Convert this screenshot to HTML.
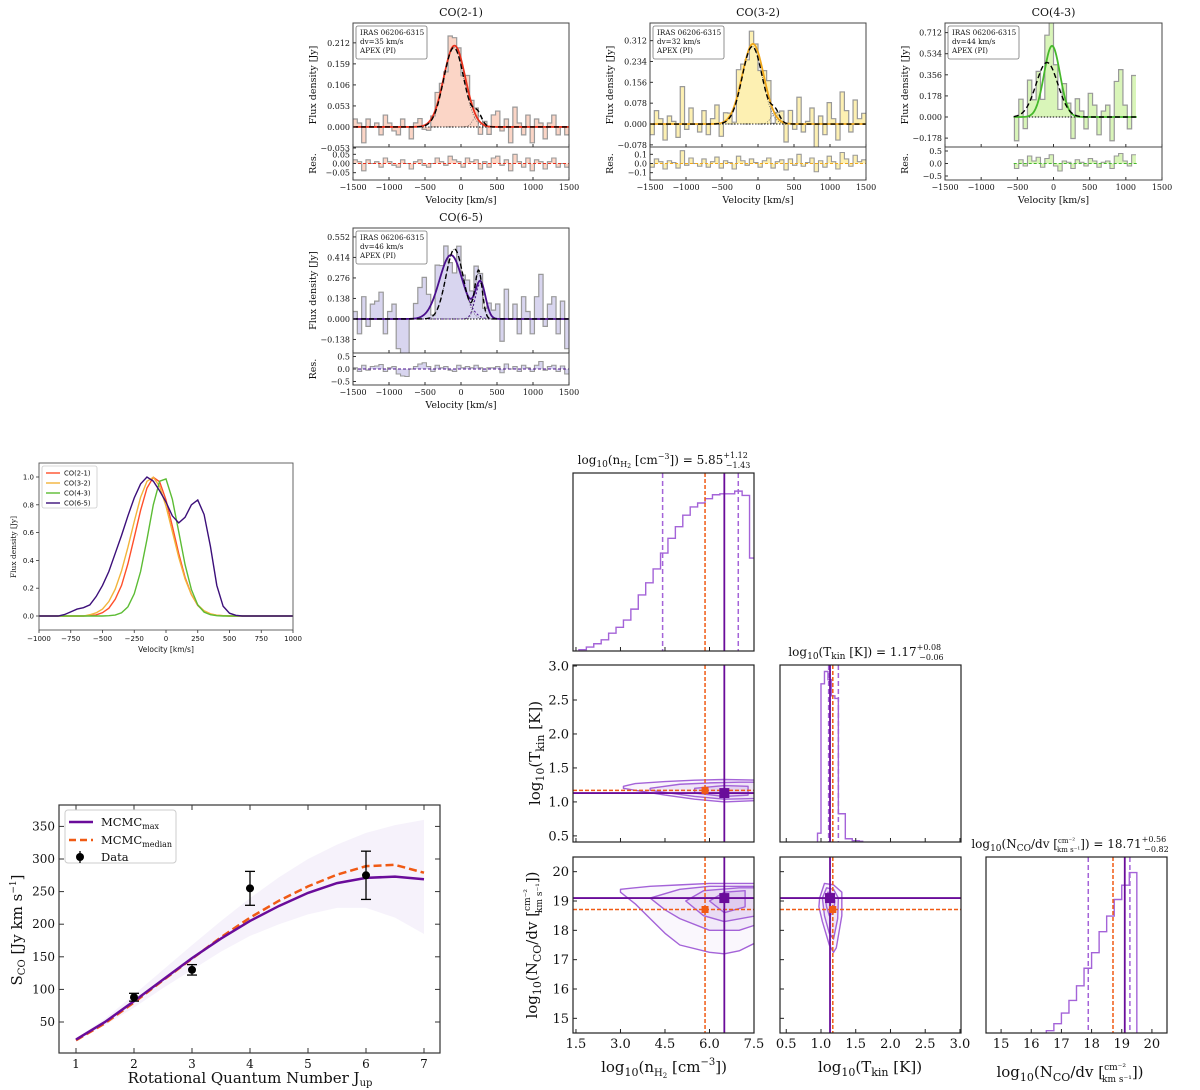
<!DOCTYPE html>
<html><head><meta charset="utf-8">
<style>
html,body{margin:0;padding:0;background:#fff;}
svg{display:block;}
text{font-family:"DejaVu Serif","Liberation Serif",serif;fill:#111;}
.sans{font-family:"DejaVu Sans","Liberation Sans",sans-serif;}
</style></head>
<body>
<svg id="fig" width="1200" height="1090" viewBox="0 0 1200 1090" xmlns="http://www.w3.org/2000/svg">
<rect x="0" y="0" width="1200" height="1090" fill="#fff"/>
</svg>
<script>
// ---------------- DATA ----------------
const binStart = -1500, binWidth = 60;
const fit21Amp = [0.205], fit21Cen = [-90], fit21Sig = [150];
const alt21Amp = [0.2, 0.03], alt21Cen = [-100, 230], alt21Sig = [140, 60];
const res21 = [0.02,0.01,-0.04,0.02,0,0.01,-0.02,0.03,0.01,-0.01,-0.02,0.02,0,-0.03,0.01,0.02,-0.01,-0.02,0,0.03,0.01,-0.01,0.04,0.02,0.01,-0.02,0.03,0.01,0.02,-0.03,0.01,-0.02,0.03,0.04,-0.01,0.02,-0.04,0.05,0.01,-0.02,0.03,-0.04,0.02,0.01,-0.03,0.01,0.03,-0.02,0,-0.02];
const fit32Amp = [0.3], fit32Cen = [-70], fit32Sig = [150];
const alt32Amp = [0.29, 0.04], alt32Cen = [-80, 240], alt32Sig = [140, 60];
const res32 = [-0.04,0.05,0.02,-0.06,0.03,0.01,-0.05,0.14,-0.02,0.06,0.0,-0.03,0.05,-0.04,0.02,0.07,-0.05,0.03,0.01,-0.06,0.08,0.03,-0.02,0.05,0.01,-0.04,0.03,0.06,-0.05,0.02,0.04,-0.07,0.05,-0.02,0.1,-0.03,0.01,0.06,-0.09,0.03,-0.04,0.08,0.02,-0.06,0.12,0.05,-0.03,0.09,0.02,0.04];
const fit43Amp = [0.6], fit43Cen = [-20], fit43Sig = [110];
const alt43Amp = [0.46], alt43Cen = [-90], alt43Sig = [150];
const res43 = [0,0,0,0,0,0,0,0,0,0,0,0,0,0,0,0,-0.2,0.15,-0.1,0.3,0.1,0.25,-0.15,0.2,0.35,-0.1,-0.3,0.1,0.05,-0.2,0.15,0.05,-0.1,0.2,0.1,-0.15,0.05,0.1,-0.2,0.3,0.4,0.1,-0.1,0.35,0,0,0,0,0,0];
const fit65Amp = [0.43, 0.24], fit65Cen = [-140, 270], fit65Sig = [160, 70];
const alt65Amp = [0.47, 0.32], alt65Cen = [-90, 245], alt65Sig = [120, 50];
const res65 = [0.05,-0.1,0.15,-0.05,0.1,0.12,0.18,-0.1,0.05,0.1,-0.2,-0.28,-0.3,0.0,0.1,0.2,0.25,0.1,-0.1,0.15,0.05,0.1,-0.05,-0.1,0.15,0.05,0.1,0.05,0.15,0.05,-0.1,0.05,0.05,0.1,-0.15,0.2,0.0,0.1,-0.1,0.15,0.05,-0.1,0.15,0.3,-0.05,0.1,0.15,-0.1,0.12,-0.2];

const profVel = [-1000,-950,-900,-850,-800,-750,-700,-650,-600,-550,-500,-450,-400,-350,-300,-250,-200,-150,-100,-50,0,50,100,150,200,250,300,350,400,450,500,550,600,650,700,750,800,850,900,950,1000];
const prof21 = [0,0,0,0,0,0,0,0,0.002,0.008,0.024,0.056,0.12,0.22,0.375,0.565,0.76,0.92,0.998,0.965,0.835,0.646,0.45,0.278,0.155,0.076,0.034,0.014,0.005,0.002,0,0,0,0,0,0,0,0,0,0,0];
const prof32 = [0,0,0,0,0,0,0,0,0.009,0.023,0.05,0.104,0.193,0.325,0.494,0.68,0.854,0.969,0.998,0.932,0.79,0.607,0.423,0.267,0.153,0.08,0.038,0.016,0.006,0.002,0,0,0,0,0,0,0,0,0,0,0];
const prof43 = [0,0,0,0,0,0,0,0,0,0,0,0.002,0.007,0.023,0.066,0.16,0.32,0.55,0.8,0.97,0.986,0.84,0.607,0.37,0.19,0.08,0.028,0.009,0.002,0,0,0,0,0,0,0,0,0,0,0,0];
const prof65 = [0,0,0,0,0.01,0.03,0.05,0.06,0.08,0.14,0.22,0.32,0.45,0.58,0.72,0.85,0.95,1.0,0.97,0.9,0.82,0.72,0.67,0.71,0.8,0.835,0.73,0.5,0.22,0.07,0.02,0.005,0,0,0,0,0,0,0,0,0];
const profNames = ["CO(2-1)","CO(3-2)","CO(4-3)","CO(6-5)"];

const sledJ = [2,3,4,6];
const sledS = [88,130,255,275];
const sledErr = [6,8,26,37];
const curveJ = [1,1.5,2,2.5,3,3.5,4,4.5,5,5.5,6,6.5,7];
const curveMax = [23,50,82,115,148,178,205,228,248,263,271,273,269];
const curveMed = [22,48,80,114,147,180,210,236,258,276,289,291,279];
const bandHi = [25,55,92,130,168,205,240,272,300,322,340,352,360];
const bandLo = [21,45,72,102,130,158,182,200,215,225,225,210,185];

const nBinStart = 1.6, nBinW = 0.25;
const nCounts = [4,12,22,34,54,72,94,127,170,207,249,297,342,377,412,437,449,462,474,477,477,485,472,282];
const tBinStart = 0.95, tBinW = 0.05;
const tCounts = [27,487,525,500,450,442,87,87,10,10,4,4,2];
const NBinStart = 16.5, NBinW = 0.25;
const NCounts = [7,28,60,98,142,195,242,305,352,402,445,483];
const nMax = 6.5, nMed = 5.85, nLo = 4.42, nHi = 6.97;
const tMax = 1.13, tMed = 1.17, tLo = 1.11, tHi = 1.25;
const NMax = 19.1, NMed = 18.71, NLo = 17.89, NHi = 19.27;
const ctTn = [
 [[3.1,1.23],[3.5,1.27],[4.5,1.30],[5.5,1.32],[6.5,1.33],[7.6,1.32],[7.6,1.02],[6.5,1.0],[5.5,1.04],[4.5,1.10],[3.5,1.17],[3.1,1.2]],
 [[4.0,1.2],[5,1.26],[6,1.28],[7,1.29],[7.6,1.29],[7.6,1.05],[6.5,1.04],[5.5,1.08],[4.5,1.14],[4.0,1.17]],
 [[5.5,1.2],[6.5,1.24],[7.3,1.23],[7.3,1.1],[6.5,1.08],[5.5,1.13]]];
const ctNn = [
 [[3.0,19.4],[4,19.5],[5,19.55],[6,19.6],[7.6,19.6],[7.6,17.6],[7.0,17.3],[6.5,17.2],[6,17.25],[5,17.5],[4.5,17.9],[4,18.4],[3.5,18.9],[3.0,19.3]],
 [[4.0,19.1],[5,19.4],[6,19.5],[7.6,19.5],[7.6,18.2],[7,18.0],[6,18.0],[5,18.4],[4.5,18.7]],
 [[5.2,19.0],[5.8,19.35],[7,19.45],[7.6,19.45],[7.6,18.5],[6.5,18.3],[5.8,18.5]],
 [[6.0,19.0],[6.5,19.3],[7.2,19.35],[7.2,18.8],[6.5,18.6]]];
const ctNT = [
 [[0.98,19.1],[1.05,19.6],[1.18,19.55],[1.3,19.3],[1.3,18.5],[1.22,17.4],[1.18,17.25],[1.12,17.5],[1.02,18.3],[0.97,18.8]],
 [[1.02,19.1],[1.08,19.45],[1.18,19.4],[1.25,19.1],[1.24,18.4],[1.18,17.7],[1.12,17.9],[1.05,18.5]],
 [[1.06,19.1],[1.1,19.3],[1.17,19.25],[1.2,19.0],[1.18,18.6],[1.12,18.5],[1.08,18.8]]];

// ---------------- HELPERS ----------------
const NS = "http://www.w3.org/2000/svg";
const svg = document.getElementById('fig');
function mk(tag, attrs, name, parent){
  const e = document.createElementNS(NS, tag);
  for (const k in attrs) e.setAttribute(k, attrs[k]);
  
  
  (parent || svg).appendChild(e);
  return e;
}
function txt(x, y, s, size, name, opt){
  opt = opt || {};
  const a = {x:x, y:y, 'font-size':size, 'text-anchor':opt.anchor||'middle'};
  if (opt.rot) a.transform = 'rotate(' + opt.rot + ' ' + x + ' ' + y + ')';
  if (opt.cls) a['class'] = opt.cls;
  const t = mk('text', a, name, opt.parent);
  if (opt.html) t.innerHTML = s; else t.textContent = s;
  return t;
}
function lin(d0, d1, p0, p1){ return v => p0 + (v - d0) * (p1 - p0) / (d1 - d0); }
let clipId = 0;
function clip(x0, y0, x1, y1){
  const id = 'c' + (clipId++);
  const cp = mk('clipPath', {id:id}, 'clip-region');
  mk('rect', {x:x0, y:y0, width:x1-x0, height:y1-y0}, 'clip-rect', cp);
  return mk('g', {'clip-path':'url(#' + id + ')'}, 'plot-area');
}
function frame(x0, y0, x1, y1, name, col, w){
  mk('rect', {x:x0, y:y0, width:x1-x0, height:y1-y0, fill:'none', stroke:col||'#333', 'stroke-width':w||1.2}, name);
}
function gsum(v, A, C, S){ let s = 0; for (let i = 0; i < A.length; i++) s += A[i] * Math.exp(-0.5 * Math.pow((v - C[i]) / S[i], 2)); return s; }
function fmt(v, d){ return v.toFixed(d).replace('-', '−'); }

// ---------------- SPECTRA ----------------
function spectrum(c){
  const X = lin(-1500, 1500, c.x0, c.x1);
  const Y = lin(c.yd[0], c.yd[1], c.yMid, c.yTop);
  const R = lin(c.rd[0], c.rd[1], c.yBot, c.yMid);
  txt((c.x0 + c.x1) / 2, c.yTop - 7, c.title, 11, 'spectrum-title', {});
  const g = clip(c.x0, c.yTop, c.x1, c.yMid);
  let d = '', first = true, lastHi = 0;
  const nb = c.res.length;
  for (let i = 0; i < nb; i++){
    const lo = binStart + i * binWidth, hi = lo + binWidth, ctr = lo + binWidth / 2;
    if (ctr < c.vmin || ctr > c.vmax) continue;
    const y = Y(gsum(ctr, c.fA, c.fC, c.fS) + c.res[i]);
    if (first){ d += 'M' + X(lo) + ' ' + Y(0) + 'L' + X(lo) + ' ' + y; first = false; }
    else d += 'L' + X(lo) + ' ' + y;
    d += 'L' + X(hi) + ' ' + y;
    lastHi = hi;
  }
  mk('path', {d:d + 'L' + X(lastHi) + ' ' + Y(0) + 'Z', fill:c.fill, stroke:'none'}, 'spectrum-fill', g);
  mk('path', {d:d, fill:'none', stroke:'#999', 'stroke-width':1.2}, 'spectrum-histogram', g);
  mk('line', {x1:X(c.lmin), x2:X(c.lmax), y1:Y(0), y2:Y(0), stroke:'#000', 'stroke-width':1, 'stroke-dasharray':'1.5 1.5'}, 'zero-line', g);
  let pA = '', pB = '';
  for (let v = c.lmin; v <= c.lmax; v += 10){
    pA += (pA ? 'L' : 'M') + X(v) + ' ' + Y(gsum(v, c.fA, c.fC, c.fS));
    pB += (pB ? 'L' : 'M') + X(v) + ' ' + Y(gsum(v, c.bA, c.bC, c.bS));
  }
  if (c.fA.length > 1){
    for (let k = 0; k < c.fA.length; k++){
      let pc = '';
      for (let v = c.lmin; v <= c.lmax; v += 10) pc += (pc ? 'L' : 'M') + X(v) + ' ' + Y(gsum(v, [c.fA[k]], [c.fC[k]], [c.fS[k]]));
      mk('path', {d:pc, fill:'none', stroke:c.line, 'stroke-width':1, 'stroke-dasharray':'2 2'}, 'fit-component', g);
    }
  }
  if (c.bA.length > 1){
    for (let k = 0; k < c.bA.length; k++){
      let pc = '';
      for (let v = c.lmin; v <= c.lmax; v += 10) pc += (pc ? 'L' : 'M') + X(v) + ' ' + Y(gsum(v, [c.bA[k]], [c.bC[k]], [c.bS[k]]));
      mk('path', {d:pc, fill:'none', stroke:'#555', 'stroke-width':0.7, 'stroke-dasharray':'1 1.5'}, 'alt-fit-component', g);
    }
  }
  mk('path', {d:pA, fill:'none', stroke:c.line, 'stroke-width':1.8}, 'fit-model-line', g);
  mk('path', {d:pB, fill:'none', stroke:'#000', 'stroke-width':1.4, 'stroke-dasharray':'5 3'}, 'alt-fit-line', g);
  mk('rect', {x:c.x0 + 3, y:c.yTop + 3, width:71, height:33, rx:2, fill:'#fff', stroke:'#777', 'stroke-width':0.8}, 'info-box');
  txt(c.x0 + 7, c.yTop + 12, 'IRAS 06206-6315', 7.2, 'info-source', {anchor:'start'});
  txt(c.x0 + 7, c.yTop + 21, c.dv, 7.2, 'info-resolution', {anchor:'start'});
  txt(c.x0 + 7, c.yTop + 30, 'APEX (PI)', 7.2, 'info-telescope', {anchor:'start'});
  const gr = clip(c.x0, c.yMid, c.x1, c.yBot);
  let rd = '', lastR = 0; first = true;
  for (let i = 0; i < nb; i++){
    const lo = binStart + i * binWidth, hi = lo + binWidth, ctr = lo + binWidth / 2;
    if (ctr < c.vmin || ctr > c.vmax) continue;
    const y = R(c.res[i]);
    if (first){ rd += 'M' + X(lo) + ' ' + R(0) + 'L' + X(lo) + ' ' + y; first = false; }
    else rd += 'L' + X(lo) + ' ' + y;
    rd += 'L' + X(hi) + ' ' + y;
    lastR = hi;
  }
  mk('path', {d:rd + 'L' + X(lastR) + ' ' + R(0) + 'Z', fill:c.fill, stroke:'none'}, 'residual-fill', gr);
  mk('path', {d:rd, fill:'none', stroke:'#999', 'stroke-width':1.1}, 'residual-histogram', gr);
  mk('line', {x1:X(c.lmin), x2:X(c.lmax), y1:R(0), y2:R(0), stroke:c.line, 'stroke-width':1, 'stroke-dasharray':'3 2'}, 'residual-zero', gr);
  frame(c.x0, c.yTop, c.x1, c.yMid, 'spectrum-frame', '#444', 1);
  frame(c.x0, c.yMid, c.x1, c.yBot, 'residual-frame', '#444', 1);
  c.yt.forEach((t, i) => {
    const y = Y(t);
    mk('line', {x1:c.x0, x2:c.x0 + 3, y1:y, y2:y, stroke:'#333'}, 'y-tick');
    txt(c.x0 - 3, y + 3, c.ytl[i], 8, 'y-tick-label', {anchor:'end'});
  });
  c.rt.forEach((t, i) => {
    const y = R(t);
    mk('line', {x1:c.x0, x2:c.x0 + 3, y1:y, y2:y, stroke:'#333'}, 'res-tick');
    txt(c.x0 - 3, y + 3, c.rtl[i], 8, 'res-tick-label', {anchor:'end'});
  });
  [-1500,-1000,-500,0,500,1000,1500].forEach(t => {
    const x = X(t);
    mk('line', {x1:x, x2:x, y1:c.yBot, y2:c.yBot - 3, stroke:'#333'}, 'x-tick');
    mk('line', {x1:x, x2:x, y1:c.yMid, y2:c.yMid - 3, stroke:'#333'}, 'x-tick');
    txt(x, c.yBot + 10, fmt(t, 0), 8, 'x-tick-label', {});
  });
  txt((c.x0 + c.x1) / 2, c.yBot + 23, 'Velocity [km/s]', 9.5, 'x-axis-title', {});
  txt(c.x0 - 37, (c.yTop + c.yMid) / 2, 'Flux density [Jy]', 9.5, 'y-axis-title', {rot:-90});
  txt(c.x0 - 37, (c.yMid + c.yBot) / 2, 'Res.', 9.5, 'res-axis-title', {rot:-90});
}
spectrum({title:'CO(2-1)', dv:'dv=35 km/s', x0:353, x1:569, yTop:23, yMid:147, yBot:180,
  yd:[-0.0505, 0.262], rd:[-0.09, 0.09], yt:[-0.053,0,0.053,0.106,0.159,0.212], ytl:['−0.053','0.000','0.053','0.106','0.159','0.212'],
  rt:[-0.05,0,0.05], rtl:['−0.05','0.00','0.05'], fA:fit21Amp, fC:fit21Cen, fS:fit21Sig, bA:alt21Amp, bC:alt21Cen, bS:alt21Sig,
  res:res21, fill:'#fbd5c6', line:'#e8321e', vmin:-1500, vmax:1500, lmin:-1500, lmax:1500});
spectrum({title:'CO(3-2)', dv:'dv=32 km/s', x0:650, x1:866, yTop:23, yMid:147, yBot:180,
  yd:[-0.086, 0.378], rd:[-0.18, 0.18], yt:[-0.078,0,0.078,0.156,0.234,0.312], ytl:['−0.078','0.000','0.078','0.156','0.234','0.312'],
  rt:[-0.1,0,0.1], rtl:['−0.1','0.0','0.1'], fA:fit32Amp, fC:fit32Cen, fS:fit32Sig, bA:alt32Amp, bC:alt32Cen, bS:alt32Sig,
  res:res32, fill:'#fdf0b2', line:'#f0a81c', vmin:-1500, vmax:1500, lmin:-1500, lmax:1500});
spectrum({title:'CO(4-3)', dv:'dv=44 km/s', x0:945, x1:1162, yTop:23, yMid:147, yBot:180,
  yd:[-0.253, 0.793], rd:[-0.66, 0.66], yt:[-0.178,0,0.178,0.356,0.534,0.712], ytl:['−0.178','0.000','0.178','0.356','0.534','0.712'],
  rt:[-0.5,0,0.5], rtl:['−0.5','0.0','0.5'], fA:fit43Amp, fC:fit43Cen, fS:fit43Sig, bA:alt43Amp, bC:alt43Cen, bS:alt43Sig,
  res:res43, fill:'#d9f5b9', line:'#46b82c', vmin:-550, vmax:1150, lmin:-550, lmax:1150});
spectrum({title:'CO(6-5)', dv:'dv=46 km/s', x0:353, x1:569, yTop:228, yMid:353, yBot:385,
  yd:[-0.229, 0.612], rd:[-0.64, 0.64], yt:[-0.138,0,0.138,0.276,0.414,0.552], ytl:['−0.138','0.000','0.138','0.276','0.414','0.552'],
  rt:[-0.5,0,0.5], rtl:['−0.5','0.0','0.5'], fA:fit65Amp, fC:fit65Cen, fS:fit65Sig, bA:alt65Amp, bC:alt65Cen, bS:alt65Sig,
  res:res65, fill:'#d8d5ef', line:'#4a0f8c', vmin:-1500, vmax:1500, lmin:-1500, lmax:1500});

// ---------------- PROFILE COMPARISON ----------------
(function(){
  const x0 = 39, x1 = 293, y0 = 463, y1 = 630;
  const X = lin(-1000, 1000, x0, x1), Y = lin(0, 1, 616, 477);
  const g = clip(x0, y0, x1, y1);
  const profs = [prof21, prof32, prof43, prof65];
  const cols = ['#ff4f2a', '#f2b43a', '#5cbc34', '#3c0f7a'];
  profs.forEach((p, k) => {
    let d = '';
    profVel.forEach((v, i) => { d += (i ? 'L' : 'M') + X(v) + ' ' + Y(p[i]); });
    mk('path', {d:d, fill:'none', stroke:cols[k], 'stroke-width':1.4}, 'profile-line', g);
  });
  frame(x0, y0, x1, y1, 'profile-frame', '#555', 0.9);
  [-1000,-750,-500,-250,0,250,500,750,1000].forEach(t => {
    mk('line', {x1:X(t), x2:X(t), y1:y1, y2:y1 + 3, stroke:'#333', 'stroke-width':0.8}, 'x-tick');
    txt(X(t), y1 + 11, fmt(t, 0), 7, 'x-tick-label', {cls:'sans'});
  });
  [0,0.2,0.4,0.6,0.8,1.0].forEach(t => {
    mk('line', {x1:x0 - 3, x2:x0, y1:Y(t), y2:Y(t), stroke:'#333', 'stroke-width':0.8}, 'y-tick');
    txt(x0 - 5, Y(t) + 2.5, t.toFixed(1), 7, 'y-tick-label', {anchor:'end', cls:'sans'});
  });
  txt(166, 652, 'Velocity [km/s]', 7.5, 'x-axis-title', {cls:'sans'});
  txt(16, 547, 'Flux density [Jy]', 7.5, 'y-axis-title', {rot:-90});
  mk('rect', {x:42, y:466, width:55, height:42, rx:2, fill:'#fff', stroke:'#ccc', 'stroke-width':0.8}, 'legend-box');
  profNames.forEach((n, k) => {
    const y = 473 + k * 10;
    mk('line', {x1:46, x2:60, y1:y, y2:y, stroke:cols[k], 'stroke-width':1.4}, 'legend-swatch');
    txt(64, y + 2.5, n, 6.8, 'legend-entry', {anchor:'start', cls:'sans'});
  });
})();

// ---------------- CO SLED ----------------
(function(){
  const x0 = 59, x1 = 440, y0 = 805, y1 = 1053;
  const X = lin(1, 7, 76, 424), Y = lin(50, 300, 1022, 859);
  const g = clip(x0, y0, x1, y1);
  let band = '';
  curveJ.forEach((j, i) => { band += (i ? 'L' : 'M') + X(j) + ' ' + Y(bandHi[i]); });
  for (let i = curveJ.length - 1; i >= 0; i--) band += 'L' + X(curveJ[i]) + ' ' + Y(bandLo[i]);
  mk('path', {d:band + 'Z', fill:'#8a5cc8', 'fill-opacity':0.08, stroke:'none'}, 'mcmc-sample-band', g);
  function curve(arr){ let d = ''; curveJ.forEach((j, i) => { d += (i ? 'L' : 'M') + X(j) + ' ' + Y(arr[i]); }); return d; }
  mk('path', {d:curve(curveMed), fill:'none', stroke:'#f05a14', 'stroke-width':2.5, 'stroke-dasharray':'8 4'}, 'mcmc-median-line', g);
  mk('path', {d:curve(curveMax), fill:'none', stroke:'#6a0c9a', 'stroke-width':2.5}, 'mcmc-max-line', g);
  sledJ.forEach((j, i) => {
    const x = X(j);
    mk('line', {x1:x, x2:x, y1:Y(sledS[i] - sledErr[i]), y2:Y(sledS[i] + sledErr[i]), stroke:'#000', 'stroke-width':1.3}, 'error-bar');
    mk('line', {x1:x - 5, x2:x + 5, y1:Y(sledS[i] - sledErr[i]), y2:Y(sledS[i] - sledErr[i]), stroke:'#000', 'stroke-width':1.3}, 'error-cap');
    mk('line', {x1:x - 5, x2:x + 5, y1:Y(sledS[i] + sledErr[i]), y2:Y(sledS[i] + sledErr[i]), stroke:'#000', 'stroke-width':1.3}, 'error-cap');
    mk('circle', {cx:x, cy:Y(sledS[i]), r:4, fill:'#000'}, 'data-point');
  });
  frame(x0, y0, x1, y1, 'sled-frame', '#333', 1.2);
  [1,2,3,4,5,6,7].forEach(t => {
    mk('line', {x1:X(t), x2:X(t), y1:y1, y2:y1 - 5, stroke:'#333'}, 'x-tick');
    mk('line', {x1:X(t), x2:X(t), y1:y0, y2:y0 + 5, stroke:'#333'}, 'x-tick-top');
    txt(X(t), y1 + 15, String(t), 12, 'x-tick-label', {});
  });
  [50,100,150,200,250,300,350].forEach(t => {
    mk('line', {x1:x0, x2:x0 + 5, y1:Y(t), y2:Y(t), stroke:'#333'}, 'y-tick');
    mk('line', {x1:x1, x2:x1 - 5, y1:Y(t), y2:Y(t), stroke:'#333'}, 'y-tick-right');
    txt(x0 - 4, Y(t) + 4, String(t), 12, 'y-tick-label', {anchor:'end'});
  });
  txt(250, 1083, 'Rotational Quantum Number J<tspan font-size="10" dy="3">up</tspan>', 15, 'x-axis-title', {html:true});
  txt(22, 930, 'S<tspan font-size="10" dy="3">CO</tspan><tspan dy="-3"> [Jy km s</tspan><tspan font-size="9" dy="-6">−1</tspan><tspan dy="6">]</tspan>', 15, 'y-axis-title', {rot:-90, html:true});
  mk('rect', {x:65, y:810, width:111, height:53, rx:3, fill:'#fff', stroke:'#ccc', 'stroke-width':1}, 'legend-box');
  mk('line', {x1:69, x2:93, y1:822, y2:822, stroke:'#6a0c9a', 'stroke-width':2.5}, 'legend-swatch-max');
  txt(101, 826, 'MCMC<tspan font-size="8" dy="3">max</tspan>', 11.5, 'legend-entry-max', {anchor:'start', html:true});
  mk('line', {x1:69, x2:93, y1:840, y2:840, stroke:'#f05a14', 'stroke-width':2.5, 'stroke-dasharray':'7 4'}, 'legend-swatch-median');
  txt(101, 844, 'MCMC<tspan font-size="8" dy="3">median</tspan>', 11.5, 'legend-entry-median', {anchor:'start', html:true});
  mk('line', {x1:80, x2:80, y1:851, y2:863, stroke:'#000', 'stroke-width':1.3}, 'legend-swatch-data-err');
  mk('circle', {cx:80, cy:857, r:4, fill:'#000'}, 'legend-swatch-data');
  txt(101, 861, 'Data', 11.5, 'legend-entry-data', {anchor:'start'});
})();

// ---------------- CORNER PLOT ----------------
(function(){
  const nD = [1.4, 7.5], tD = [0.41, 3.015], ND = [14.5, 20.5];
  const P = {
    n1: {x0:573, x1:754, y0:473, y1:651},
    Tn: {x0:573, x1:754, y0:665, y1:842},
    T1: {x0:780, x1:961, y0:665, y1:842},
    Nn: {x0:573, x1:754, y0:857, y1:1033},
    NT: {x0:780, x1:961, y0:857, y1:1033},
    N1: {x0:986, x1:1167, y0:857, y1:1033}
  };
  const lav = '#a463d8', pur = '#6a0c9a', org = '#f05a14';
  function hist(p, dom, start, w, counts, cmax, lo, hi, med, mx){
    const X = lin(dom[0], dom[1], p.x0, p.x1), Y = lin(0, cmax, p.y1, p.y0);
    const g = clip(p.x0, p.y0, p.x1, p.y1);
    let d = 'M' + X(start) + ' ' + Y(0);
    counts.forEach((c, i) => { d += 'L' + X(start + i * w) + ' ' + Y(c) + 'L' + X(start + (i + 1) * w) + ' ' + Y(c); });
    d += 'L' + X(start + counts.length * w) + ' ' + Y(0);
    mk('path', {d:d, fill:'none', stroke:lav, 'stroke-width':1.4}, 'posterior-histogram', g);
    [lo, hi].forEach(v => mk('line', {x1:X(v), x2:X(v), y1:p.y0, y2:p.y1, stroke:lav, 'stroke-width':1.5, 'stroke-dasharray':'5 3'}, 'quantile-line', g));
    mk('line', {x1:X(med), x2:X(med), y1:p.y0, y2:p.y1, stroke:org, 'stroke-width':1.5, 'stroke-dasharray':'4 2'}, 'median-line', g);
    mk('line', {x1:X(mx), x2:X(mx), y1:p.y0, y2:p.y1, stroke:pur, 'stroke-width':1.8}, 'max-line', g);
    frame(p.x0, p.y0, p.x1, p.y1, 'hist-frame', '#222', 1.2);
    return X;
  }
  function twoD(p, dx, dy, cts, xm, ym, xmed, ymed, fills){
    const X = lin(dx[0], dx[1], p.x0, p.x1), Y = lin(dy[0], dy[1], p.y1, p.y0);
    const g = clip(p.x0, p.y0, p.x1, p.y1);
    cts.forEach((ct, k) => {
      let d = '';
      ct.forEach((q, i) => { d += (i ? 'L' : 'M') + X(q[0]) + ' ' + Y(q[1]); });
      mk('path', {d:d + 'Z', fill:'#9b59d0', 'fill-opacity':fills[k], stroke:'none'}, 'density-shading', g);
    });
    cts.forEach(ct => {
      let d = '';
      ct.forEach((q, i) => { d += (i ? 'L' : 'M') + X(q[0]) + ' ' + Y(q[1]); });
      mk('path', {d:d + 'Z', fill:'none', stroke:lav, 'stroke-width':1.4, 'stroke-linejoin':'round'}, 'density-contour', g);
    });
    mk('line', {x1:p.x0, x2:p.x1, y1:Y(ymed), y2:Y(ymed), stroke:org, 'stroke-width':1.5, 'stroke-dasharray':'4 2'}, 'median-hline', g);
    mk('line', {x1:X(xmed), x2:X(xmed), y1:p.y0, y2:p.y1, stroke:org, 'stroke-width':1.5, 'stroke-dasharray':'4 2'}, 'median-vline', g);
    mk('line', {x1:p.x0, x2:p.x1, y1:Y(ym), y2:Y(ym), stroke:pur, 'stroke-width':1.8}, 'max-hline', g);
    mk('line', {x1:X(xm), x2:X(xm), y1:p.y0, y2:p.y1, stroke:pur, 'stroke-width':1.8}, 'max-vline', g);
    mk('rect', {x:X(xmed) - 3.5, y:Y(ymed) - 3.5, width:7, height:7, fill:org}, 'median-marker', g);
    mk('rect', {x:X(xm) - 5, y:Y(ym) - 5, width:10, height:10, fill:pur}, 'max-marker', g);
    frame(p.x0, p.y0, p.x1, p.y1, 'panel-frame', '#222', 1.2);
    return [X, Y];
  }
  const Xn = hist(P.n1, nD, nBinStart, nBinW, nCounts, 540, nLo, nHi, nMed, nMax);
  const Xt = hist(P.T1, tD, tBinStart, tBinW, tCounts, 545, tLo, tHi, tMed, tMax);
  const XN = hist(P.N1, ND, NBinStart, NBinW, NCounts, 530, NLo, NHi, NMed, NMax);
  const aTn = twoD(P.Tn, nD, tD, ctTn, nMax, tMax, nMed, tMed, [0.06, 0.1, 0.15]);
  const aNn = twoD(P.Nn, nD, ND, ctNn, nMax, NMax, nMed, NMed, [0.05, 0.08, 0.1, 0.12]);
  const aNT = twoD(P.NT, tD, ND, ctNT, tMax, NMax, tMed, NMed, [0.06, 0.1, 0.14]);
  const nT = [1.5, 3.0, 4.5, 6.0, 7.5], tT = [0.5, 1.0, 1.5, 2.0, 2.5, 3.0], NT = [15, 16, 17, 18, 19, 20];
  function xticks(p, X, ts, lab, dec){
    ts.forEach(t => {
      mk('line', {x1:X(t), x2:X(t), y1:p.y1, y2:p.y1 - 4, stroke:'#222'}, 'x-tick');
      if (lab) txt(X(t), p.y1 + 15, t.toFixed(dec), 13, 'x-tick-label', {});
    });
  }
  function yticks(p, Y, ts, lab, dec){
    ts.forEach(t => {
      mk('line', {x1:p.x0, x2:p.x0 + 4, y1:Y(t), y2:Y(t), stroke:'#222'}, 'y-tick');
      if (lab) txt(p.x0 - 4, Y(t) + 4.5, t.toFixed(dec), 13, 'y-tick-label', {anchor:'end'});
    });
  }
  xticks(P.n1, Xn, nT, false, 1);
  xticks(P.Tn, aTn[0], nT, false, 1);
  xticks(P.Nn, aNn[0], nT, true, 1);
  xticks(P.T1, Xt, tT, false, 1);
  xticks(P.NT, aNT[0], tT, true, 1);
  xticks(P.N1, XN, NT, true, 0);
  yticks(P.Tn, aTn[1], tT, true, 1);
  yticks(P.Nn, aNn[1], NT, true, 0);
  yticks(P.NT, aNT[1], NT, false, 0);
  txt(664, 464, 'log<tspan font-size="9" dy="3">10</tspan><tspan dy="-3">(n</tspan><tspan font-size="8" dy="3">H</tspan><tspan font-size="6" dy="1">2</tspan><tspan dy="-4"> [cm</tspan><tspan font-size="8" dy="-5">−3</tspan><tspan dy="5">]) = 5.85</tspan><tspan font-size="8" dy="-6">+1.12</tspan><tspan font-size="8" dx="-22" dy="10">−1.43</tspan>', 12, 'n-posterior-title', {html:true});
  txt(866, 656, 'log<tspan font-size="9" dy="3">10</tspan><tspan dy="-3">(T</tspan><tspan font-size="9" dy="3">kin</tspan><tspan dy="-3"> [K]) = 1.17</tspan><tspan font-size="8" dy="-6">+0.08</tspan><tspan font-size="8" dx="-22" dy="10">−0.06</tspan>', 12, 'T-posterior-title', {html:true});
  txt(1070, 848, 'log<tspan font-size="9" dy="3">10</tspan><tspan dy="-3">(N</tspan><tspan font-size="9" dy="3">CO</tspan><tspan dy="-3">/dv [</tspan><tspan font-size="7" dy="-5">cm⁻²</tspan><tspan font-size="7" dx="-18" dy="9">km s⁻¹</tspan><tspan dy="-4">]) = 18.71</tspan><tspan font-size="8" dy="-6">+0.56</tspan><tspan font-size="8" dx="-22" dy="10">−0.82</tspan>', 12, 'N-posterior-title', {html:true});
  txt(664, 1072, 'log<tspan font-size="11" dy="4">10</tspan><tspan dy="-4">(n</tspan><tspan font-size="10" dy="4">H</tspan><tspan font-size="7" dy="2">2</tspan><tspan dy="-6"> [cm</tspan><tspan font-size="10" dy="-7">−3</tspan><tspan dy="7">])</tspan>', 15, 'n-axis-title', {html:true});
  txt(870, 1072, 'log<tspan font-size="11" dy="4">10</tspan><tspan dy="-4">(T</tspan><tspan font-size="11" dy="4">kin</tspan><tspan dy="-4"> [K])</tspan>', 15, 'T-axis-title', {html:true});
  txt(1070, 1077, 'log<tspan font-size="11" dy="4">10</tspan><tspan dy="-4">(N</tspan><tspan font-size="11" dy="4">CO</tspan><tspan dy="-4">/dv [</tspan><tspan font-size="9" dy="-7">cm⁻²</tspan><tspan font-size="9" dx="-24" dy="12">km s⁻¹</tspan><tspan dy="-5">])</tspan>', 15, 'N-axis-title', {html:true});
  txt(540, 753, 'log<tspan font-size="11" dy="4">10</tspan><tspan dy="-4">(T</tspan><tspan font-size="11" dy="4">kin</tspan><tspan dy="-4"> [K])</tspan>', 15, 'T-y-axis-title', {rot:-90, html:true});
  txt(537, 945, 'log<tspan font-size="11" dy="4">10</tspan><tspan dy="-4">(N</tspan><tspan font-size="11" dy="4">CO</tspan><tspan dy="-4">/dv [</tspan><tspan font-size="9" dy="-7">cm⁻²</tspan><tspan font-size="9" dx="-24" dy="12">km s⁻¹</tspan><tspan dy="-5">])</tspan>', 15, 'N-y-axis-title', {rot:-90, html:true});
})();
</script>
</body></html>
